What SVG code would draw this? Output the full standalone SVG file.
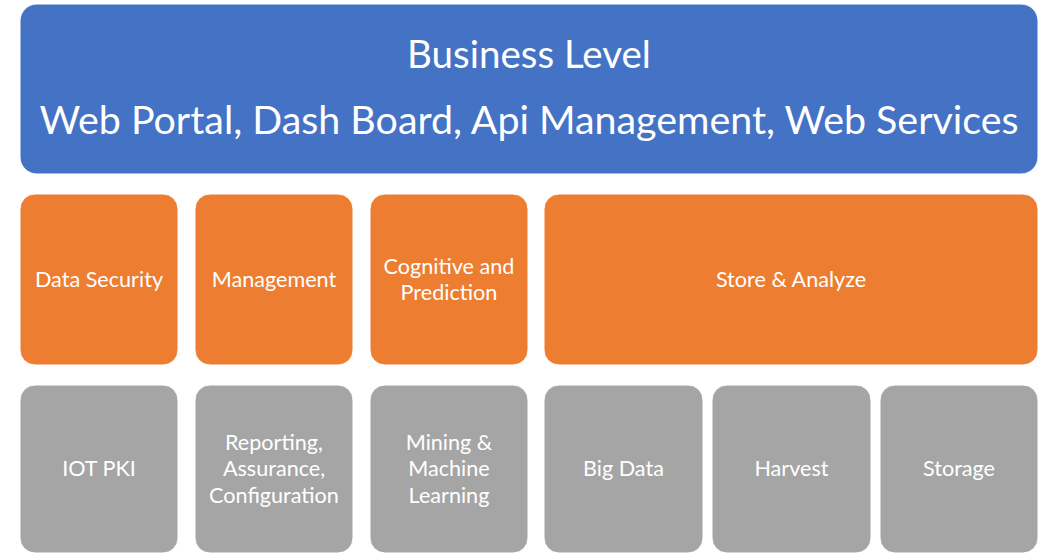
<svg xmlns="http://www.w3.org/2000/svg" width="1040" height="554" viewBox="0 0 1040 554">
<style>
.blue{fill:#4472C4;stroke:#ffffff;stroke-width:1}
.orange{fill:#ED7D31;stroke:#ffffff;stroke-width:1}
.gray{fill:#A5A5A5;stroke:#ffffff;stroke-width:1}
text{font-family:Lato,"Open Sans","Liberation Sans",sans-serif;fill:#ffffff;text-anchor:middle}
.t1{font-size:38.5px}
.t2{font-size:39.4px}
.lbl{font-size:21.6px}
</style>
<rect width="1040" height="554" fill="#ffffff"/>
<g id="business">
<rect class="blue" x="20" y="4" width="1018" height="170" rx="17"/>
<text class="t1" x="529" y="68">Business Level</text>
<text class="t2" x="529" y="134">Web Portal, Dash Board, Api Management, Web Services</text>
</g>
<g id="data-security">
<rect class="orange" x="20" y="194" width="158" height="171" rx="15"/>
<text class="lbl" x="99" y="287">Data Security</text>
</g>
<g id="management">
<rect class="orange" x="195" y="194" width="158" height="171" rx="15"/>
<text class="lbl" x="274" y="287">Management</text>
</g>
<g id="cognitive">
<rect class="orange" x="370" y="194" width="158" height="171" rx="15"/>
<text class="lbl" x="449" y="274">Cognitive and</text>
<text class="lbl" x="449" y="300">Prediction</text>
</g>
<g id="store-analyze">
<rect class="orange" x="544" y="194" width="494" height="171" rx="15"/>
<text class="lbl" x="791" y="287">Store &amp; Analyze</text>
</g>
<g id="iot-pki">
<rect class="gray" x="20" y="385" width="158" height="168" rx="15"/>
<text class="lbl" x="99" y="476">IOT PKI</text>
</g>
<g id="reporting">
<rect class="gray" x="195" y="385" width="158" height="168" rx="15"/>
<text class="lbl" x="274" y="450">Reporting,</text>
<text class="lbl" x="274" y="476">Assurance,</text>
<text class="lbl" x="274" y="503">Configuration</text>
</g>
<g id="mining">
<rect class="gray" x="370" y="385" width="158" height="168" rx="15"/>
<text class="lbl" x="449" y="450">Mining &amp;</text>
<text class="lbl" x="449" y="476">Machine</text>
<text class="lbl" x="449" y="503">Learning</text>
</g>
<g id="big-data">
<rect class="gray" x="544" y="385" width="159" height="168" rx="15"/>
<text class="lbl" x="623.5" y="476">Big Data</text>
</g>
<g id="harvest">
<rect class="gray" x="712" y="385" width="159" height="168" rx="15"/>
<text class="lbl" x="791.5" y="476">Harvest</text>
</g>
<g id="storage">
<rect class="gray" x="880" y="385" width="158" height="168" rx="15"/>
<text class="lbl" x="959" y="476">Storage</text>
</g>
<g id="connectors"/>
</svg>
